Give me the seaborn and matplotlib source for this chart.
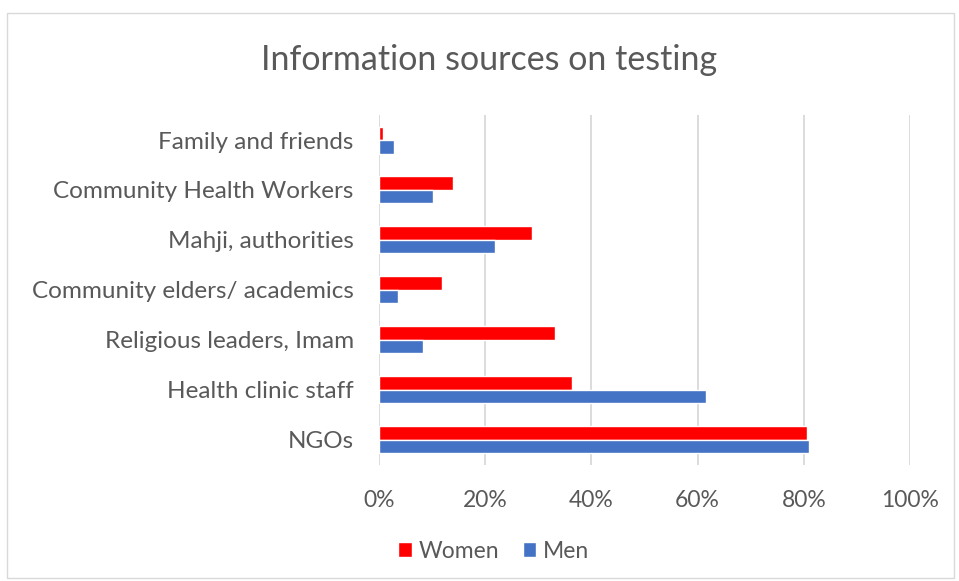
import pandas as pd
import matplotlib.pyplot as plt
import seaborn as sns
from matplotlib.patches import Rectangle
from matplotlib.ticker import PercentFormatter

sources = ["Family and friends", "Community Health Workers", "Mahji, authorities",
           "Community elders/ academics", "Religious leaders, Imam",
           "Health clinic staff", "NGOs"]
women = [0.8, 14.0, 28.9, 11.9, 33.2, 36.4, 80.6]
men = [2.8, 10.2, 21.9, 3.6, 8.3, 61.5, 80.9]

df = pd.DataFrame({"source": sources * 2,
                   "share": women + men,
                   "group": ["Women"] * len(sources) + ["Men"] * len(sources)})

sns.set_theme(style="white")
plt.rcParams['font.family'] = ['Lato', 'DejaVu Sans']
grey = "#595959"

fig = plt.figure(figsize=(9.59, 5.81), dpi=100)
ax = fig.add_axes([0.395, 0.2, 0.554, 0.602])

sns.barplot(data=df, y="source", x="share", hue="group", orient="h",
            palette={"Women": "#ff0000", "Men": "#4472c4"}, saturation=1,
            width=0.54, ax=ax, order=sources, hue_order=["Women", "Men"])

ax.set_xlim(0, 100)
ax.set_xticks(range(0, 101, 20))
ax.xaxis.set_major_formatter(PercentFormatter(decimals=0))
ax.grid(axis="x", color="#d9d9d9", linewidth=1.3)
ax.set_axisbelow(True)
for s in ax.spines.values():
    s.set_visible(False)
ax.set_xlabel("")
ax.set_ylabel("")
ax.tick_params(axis="both", length=0, labelcolor=grey)
ax.tick_params(axis="x", pad=18, labelsize=16.5)
ax.tick_params(axis="y", pad=18, labelsize=17.5)

fig.suptitle("Information sources on testing", x=0.51, y=0.925,
             fontsize=24.5, color=grey)

ax.legend(loc="upper center", ncol=2, frameon=False,
          fontsize=16.5, labelcolor=grey, handlelength=0.6, handleheight=0.6,
          handletextpad=0.3, columnspacing=1.0)
leg = ax.get_legend()
leg.set_bbox_to_anchor((0.515, 0.105), transform=fig.transFigure)

fig.patches.append(Rectangle((0.007, 0.005), 0.988, 0.972, transform=fig.transFigure,
                             fill=False, edgecolor="#d9d9d9", linewidth=1))

fig.savefig("out.png", dpi=100, facecolor="white")
